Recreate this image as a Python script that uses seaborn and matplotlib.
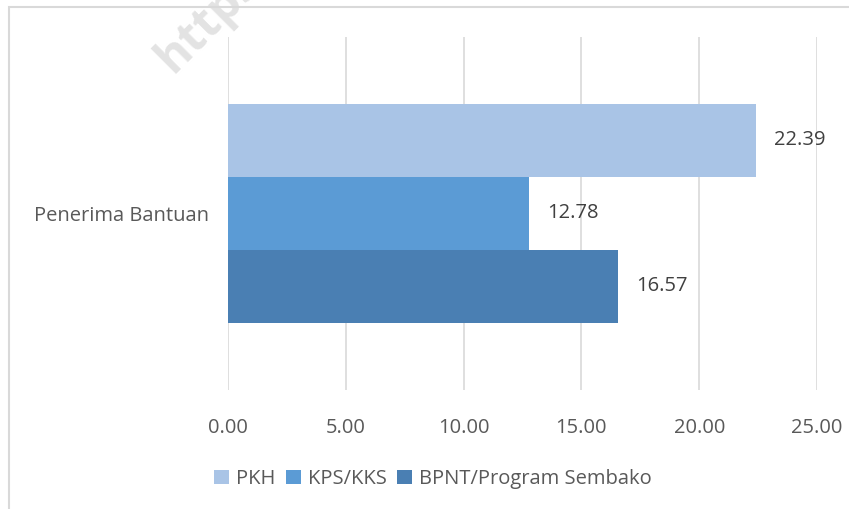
import pandas as pd
import seaborn as sns
import matplotlib.pyplot as plt
from matplotlib.patches import Rectangle

# -------------------------------------------------------------------
# Data
# -------------------------------------------------------------------
category = ["Penerima Bantuan"]
series = ["PKH", "KPS/KKS", "BPNT/Program Sembako"]
values = [22.39, 12.78, 16.57]
x_ticks = [0, 5, 10, 15, 20, 25]

df = pd.DataFrame({
    "Kategori": category * len(series),
    "Program": series,
    "Nilai": values,
})

palette = {"PKH": "#A9C4E6", "KPS/KKS": "#5B9BD5", "BPNT/Program Sembako": "#4A7FB3"}
text_color = "#595959"
fs = 14.5

# -------------------------------------------------------------------
# Plot
# -------------------------------------------------------------------
sns.set_theme(style="white")
plt.rcParams["font.family"] = ["Open Sans", "DejaVu Sans"]

fig = plt.figure(figsize=(8.49, 5.09), dpi=100)
ax = fig.add_axes([228 / 849, 119 / 509, 589 / 849, 353 / 509])

sns.barplot(data=df, y="Kategori", x="Nilai", hue="Program", palette=palette,
            orient="h", width=0.8, saturation=1, linewidth=0, ax=ax, legend=True)

for c in ax.containers:
    ax.bar_label(c, labels=[f"{v:.2f}" for v in c.datavalues], padding=13,
                 fontsize=fs, color="#404040")

ax.set_xlim(0, 25)
ax.set_ylim(0.645, -0.643)
ax.set_xticks(x_ticks)
ax.set_xticklabels([f"{t:.2f}" for t in x_ticks], fontsize=fs, color=text_color)
ax.tick_params(axis="y", labelsize=fs, labelcolor=text_color, length=0, pad=14)
ax.tick_params(axis="x", length=0, pad=20)
ax.set_xlabel("")
ax.set_ylabel("")
ax.xaxis.grid(True, color="#D9D9D9", linewidth=1.2)
ax.set_axisbelow(True)
for s in ax.spines.values():
    s.set_visible(False)

# legend below
handles, labels = ax.get_legend_handles_labels()
ax.legend_.remove()
fig.legend(handles, labels, loc="center", bbox_to_anchor=(433 / 849, 1 - 479 / 509),
           ncol=3, frameon=False, fontsize=fs, labelcolor=text_color,
           handlelength=0.75, handleheight=0.75, handletextpad=0.35, columnspacing=0.5)

# chart border
fig.add_artist(Rectangle((9 / 849, -0.05), 1.1, 1 - 7 / 509 + 0.05,
                         transform=fig.transFigure, fill=False,
                         edgecolor="#D9D9D9", linewidth=1.5))

# watermark
fig.text(172 / 849, 1 - 74 / 509, "https://", rotation=45, rotation_mode="anchor",
         ha="left", va="baseline", fontsize=34, fontweight="bold",
         color="#E3E3E3", zorder=0)

fig.savefig("out.png", dpi=100)
